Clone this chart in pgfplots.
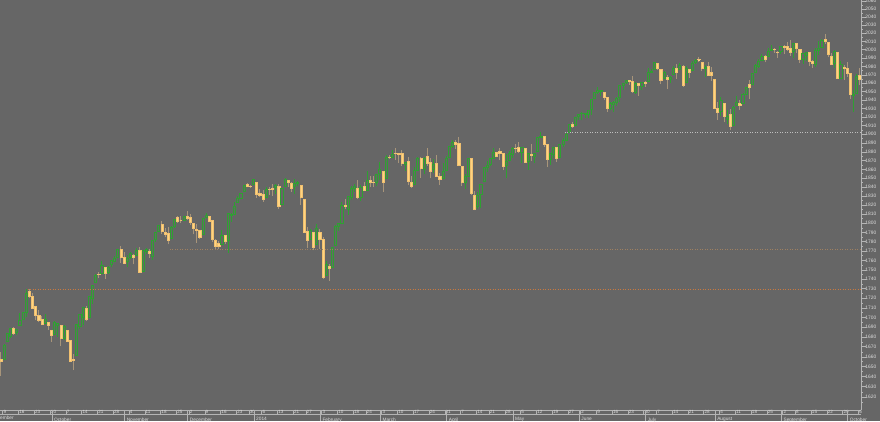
\documentclass[border=0pt]{standalone}
\usepackage{pgfplots}
\pgfplotsset{compat=1.18}
\usepackage{pgfplotstable}
\usepackage{fontspec}
\setmainfont{Liberation Sans}
\definecolor{bg}{HTML}{666666}
\definecolor{upc}{HTML}{2FA032}
\definecolor{dnfill}{HTML}{FFD480}
\definecolor{dnedge}{HTML}{F0C070}
\definecolor{dnwick}{HTML}{A8957A}
\definecolor{txt}{HTML}{DCDCDC}
\definecolor{axl}{HTML}{B4B4B4}
\definecolor{lvlA}{HTML}{C87A40}
\definecolor{lvlB}{HTML}{A08060}
\definecolor{lvlC}{HTML}{BEBEBE}

\pgfplotstableread{
i o h l c
0 1657.4 1664.8 1640.6 1655.2
1 1656.9 1672.4 1656.9 1671.7
2 1675.1 1684.1 1675.1 1684.0
3 1681.0 1689.1 1678.7 1689.1
4 1689.2 1690.0 1682.0 1683.4
5 1685.0 1688.7 1682.2 1688.0
6 1691.7 1705.0 1691.7 1697.6
7 1697.7 1705.5 1697.7 1704.8
8 1705.7 1729.4 1700.4 1725.5
9 1727.3 1729.9 1720.2 1722.3
10 1722.4 1725.2 1708.9 1709.9
11 1711.4 1711.4 1697.1 1701.8
12 1702.6 1707.6 1694.9 1697.4
13 1698.0 1701.7 1691.9 1692.8
14 1694.1 1703.9 1693.1 1698.7
15 1695.5 1695.5 1687.1 1691.8
16 1687.3 1687.3 1675.0 1681.6
17 1682.4 1696.6 1682.1 1695.0
18 1691.9 1693.9 1680.3 1693.9
19 1692.3 1692.3 1670.4 1678.7
20 1678.8 1691.9 1677.3 1690.5
21 1687.2 1687.2 1674.7 1676.1
22 1676.2 1676.8 1655.0 1655.5
23 1657.0 1662.5 1646.5 1656.4
24 1660.9 1692.6 1660.9 1692.6
25 1691.1 1703.4 1688.5 1703.2
26 1699.9 1711.0 1692.1 1710.1
27 1709.2 1711.6 1695.9 1698.1
28 1700.5 1721.8 1700.5 1721.5
29 1720.2 1733.4 1714.1 1733.2
30 1736.7 1745.3 1735.7 1744.5
31 1745.2 1747.8 1740.7 1744.7
32 1746.5 1759.3 1746.5 1754.7
33 1752.3 1752.3 1740.5 1746.4
34 1747.5 1753.9 1745.5 1752.1
35 1756.0 1759.8 1752.5 1759.8
36 1759.4 1765.0 1757.7 1762.1
37 1762.9 1772.1 1762.9 1772.0
38 1772.3 1775.2 1757.2 1763.3
39 1763.2 1768.5 1755.7 1756.5
40 1758.7 1765.7 1752.7 1761.6
41 1763.4 1768.8 1761.6 1767.9
42 1765.7 1767.0 1755.8 1763.0
43 1765.0 1773.7 1764.4 1770.5
44 1770.7 1774.5 1746.2 1747.2
45 1748.4 1770.8 1747.6 1770.6
46 1770.0 1773.4 1767.0 1771.9
47 1769.5 1771.8 1762.3 1767.7
48 1764.4 1782.0 1760.6 1782.0
49 1782.8 1791.0 1780.2 1790.6
50 1790.7 1798.2 1790.7 1798.2
51 1798.8 1802.3 1788.4 1791.5
52 1790.8 1795.5 1784.7 1787.9
53 1789.6 1795.7 1777.2 1781.4
54 1783.5 1797.2 1783.5 1795.9
55 1796.2 1804.8 1794.7 1804.8
56 1806.3 1808.1 1800.6 1802.5
57 1802.9 1808.4 1800.8 1802.8
58 1803.5 1808.3 1802.8 1807.2
59 1808.0 1813.6 1804.0 1805.8
60 1806.6 1810.0 1798.6 1800.9
61 1800.1 1800.1 1787.9 1795.2
62 1794.1 1799.8 1779.1 1792.8
63 1792.8 1792.8 1783.4 1785.0
64 1788.4 1806.0 1788.4 1805.1
65 1806.2 1811.5 1806.2 1808.4
66 1807.6 1808.5 1801.4 1802.6
67 1802.8 1803.0 1780.1 1782.2
68 1781.7 1783.0 1772.3 1775.5
69 1778.0 1780.9 1772.5 1775.3
70 1777.5 1792.2 1777.5 1786.5
71 1786.5 1786.8 1777.2 1781.0
72 1781.5 1811.1 1768.0 1810.7
73 1809.0 1810.9 1801.7 1809.6
74 1810.4 1823.8 1810.4 1818.3
75 1822.9 1829.8 1822.9 1828.0
76 1828.0 1833.3 1828.0 1833.3
77 1835.0 1842.8 1835.0 1842.0
78 1843.0 1844.9 1839.8 1841.4
79 1841.5 1842.5 1838.8 1841.1
80 1842.6 1849.4 1842.4 1848.4
81 1845.9 1845.9 1827.7 1832.0
82 1833.2 1838.2 1829.1 1831.4
83 1832.3 1837.2 1823.7 1826.8
84 1828.7 1840.1 1828.7 1837.9
85 1837.9 1840.0 1831.4 1837.5
86 1839.0 1843.2 1830.4 1838.1
87 1840.1 1844.0 1832.4 1842.4
88 1841.3 1843.5 1815.5 1819.2
89 1821.4 1839.3 1821.4 1838.9
90 1840.5 1850.8 1840.5 1848.4
91 1848.0 1848.0 1840.3 1845.9
92 1844.2 1846.0 1835.2 1838.7
93 1841.1 1849.3 1832.4 1843.8
94 1844.7 1846.9 1840.9 1844.9
95 1842.3 1842.3 1820.1 1828.5
96 1827.0 1827.0 1790.3 1790.3
97 1791.0 1796.0 1772.9 1781.6
98 1783.0 1793.9 1783.0 1792.5
99 1790.2 1790.2 1770.5 1774.2
100 1777.2 1798.8 1777.2 1794.2
101 1790.9 1793.9 1772.3 1782.6
102 1782.7 1784.8 1739.7 1741.9
103 1743.8 1758.7 1743.8 1755.2
104 1753.4 1755.8 1737.9 1751.6
105 1753.0 1774.1 1753.0 1773.4
106 1776.0 1798.0 1776.0 1797.0
107 1796.2 1799.9 1791.8 1799.8
108 1800.5 1823.5 1800.4 1819.8
109 1820.1 1826.6 1816.0 1819.3
110 1814.8 1830.3 1809.2 1829.8
111 1828.5 1841.7 1825.6 1838.6
112 1839.0 1842.9 1835.0 1840.8
113 1838.9 1847.5 1827.0 1828.8
114 1829.2 1842.8 1824.9 1839.8
115 1841.1 1846.1 1835.6 1836.3
116 1836.8 1858.7 1836.8 1847.6
117 1847.7 1852.9 1840.2 1845.1
118 1845.8 1852.7 1840.7 1845.2
119 1844.9 1854.5 1841.1 1854.3
120 1855.1 1867.9 1847.7 1859.5
121 1857.7 1857.7 1834.4 1845.7
122 1849.2 1876.2 1849.2 1873.9
123 1874.1 1876.5 1871.9 1873.8
124 1874.2 1881.9 1874.2 1877.0
125 1878.5 1883.6 1870.6 1878.0
126 1877.9 1877.9 1867.1 1877.2
127 1878.3 1882.4 1863.9 1867.6
128 1866.2 1868.4 1858.0 1868.2
129 1869.1 1874.4 1841.9 1846.3
130 1845.1 1852.4 1839.6 1841.1
131 1842.8 1862.3 1842.8 1858.8
132 1858.9 1873.8 1858.9 1872.3
133 1872.3 1874.1 1850.4 1860.8
134 1860.1 1873.5 1854.6 1872.0
135 1874.5 1884.0 1863.5 1866.5
136 1867.7 1873.3 1849.7 1857.4
137 1859.5 1871.9 1856.0 1865.6
138 1867.1 1875.9 1852.6 1852.6
139 1852.1 1855.6 1842.1 1849.0
140 1850.1 1866.6 1850.1 1857.6
141 1859.2 1875.2 1859.2 1872.3
142 1874.0 1885.8 1874.0 1885.5
143 1886.6 1893.2 1883.8 1890.9
144 1891.4 1893.8 1882.7 1888.8
145 1890.3 1897.3 1863.3 1865.1
146 1863.9 1864.0 1841.5 1845.0
147 1845.5 1855.0 1837.5 1852.0
148 1852.6 1872.4 1852.4 1872.2
149 1872.3 1872.5 1830.9 1833.1
150 1830.7 1835.1 1814.4 1815.7
151 1818.2 1834.2 1815.8 1830.6
152 1831.5 1844.0 1816.3 1843.0
153 1846.0 1862.3 1846.0 1862.3
154 1861.7 1869.6 1856.7 1864.9
155 1865.8 1871.9 1863.2 1871.9
156 1872.6 1884.9 1872.6 1879.6
157 1879.3 1879.8 1873.9 1875.4
158 1881.0 1884.1 1870.2 1878.6
159 1877.7 1877.7 1859.7 1863.4
160 1865.0 1877.0 1850.6 1869.4
161 1870.8 1880.6 1870.8 1878.3
162 1877.1 1885.2 1872.7 1884.0
163 1884.4 1888.6 1878.0 1883.7
164 1885.3 1891.3 1878.5 1881.1
165 1879.5 1885.5 1866.8 1884.7
166 1883.7 1883.7 1867.7 1867.7
167 1868.5 1878.8 1859.8 1878.2
168 1877.4 1889.1 1870.1 1875.6
169 1875.3 1878.6 1867.0 1878.5
170 1880.0 1897.1 1880.0 1896.7
171 1896.8 1902.2 1896.1 1897.5
172 1897.1 1897.1 1885.8 1888.5
173 1888.2 1888.2 1862.4 1870.9
174 1871.2 1878.3 1864.8 1877.9
175 1876.7 1886.0 1872.4 1885.1
176 1884.9 1884.9 1868.1 1872.8
177 1873.3 1888.8 1873.3 1888.0
178 1888.2 1896.3 1885.4 1892.5
179 1893.3 1901.3 1893.3 1900.5
180 1902.0 1912.3 1902.0 1911.9
181 1911.8 1914.5 1907.3 1909.8
182 1910.6 1920.0 1909.8 1920.0
183 1920.3 1924.0 1916.6 1923.6
184 1923.9 1925.9 1916.0 1925.0
185 1923.1 1925.1 1918.8 1924.2
186 1923.1 1928.6 1918.6 1927.9
187 1928.5 1941.7 1922.9 1940.5
188 1942.4 1949.4 1942.4 1949.4
189 1949.0 1955.6 1947.2 1951.3
190 1950.3 1950.9 1944.6 1950.8
191 1949.4 1949.4 1940.1 1943.9
192 1943.4 1943.9 1925.8 1930.1
193 1930.8 1937.3 1927.7 1936.2
194 1934.8 1938.4 1925.9 1937.8
195 1937.2 1943.7 1933.6 1942.0
196 1942.7 1957.7 1937.6 1957.0
197 1957.5 1959.9 1952.3 1959.5
198 1960.5 1963.9 1959.1 1962.9
199 1962.9 1963.7 1958.2 1962.6
200 1962.0 1968.2 1948.3 1950.0
201 1949.3 1960.8 1947.5 1959.5
202 1959.9 1959.9 1944.7 1957.2
203 1956.6 1961.0 1952.2 1961.0
204 1960.8 1962.9 1955.6 1960.2
205 1962.3 1978.6 1962.3 1973.3
206 1973.1 1976.7 1972.6 1974.6
207 1975.9 1985.6 1975.9 1985.4
208 1984.2 1984.2 1975.7 1977.7
209 1976.4 1976.4 1959.5 1963.7
210 1965.1 1974.2 1965.1 1972.8
211 1966.7 1969.8 1952.9 1964.7
212 1965.0 1968.7 1959.6 1967.6
213 1969.9 1979.8 1969.9 1977.1
214 1977.4 1982.5 1965.3 1973.3
215 1976.4 1983.9 1975.7 1981.6
216 1979.8 1981.8 1955.6 1958.1
217 1961.5 1979.9 1961.5 1978.2
218 1976.9 1976.9 1965.8 1973.6
219 1975.6 1986.2 1975.6 1983.5
220 1985.3 1989.2 1982.4 1987.0
221 1988.1 1991.4 1985.8 1988.0
222 1984.6 1984.6 1974.4 1978.3
223 1978.3 1981.5 1967.3 1978.9
224 1980.0 1984.9 1970.0 1970.0
225 1973.2 1978.9 1962.4 1970.1
226 1965.1 1965.1 1930.7 1930.7
227 1929.8 1937.4 1916.4 1925.2
228 1926.6 1942.9 1921.2 1939.0
229 1936.3 1936.3 1913.8 1920.2
230 1917.3 1927.9 1911.5 1920.2
231 1923.0 1928.9 1904.8 1909.6
232 1910.4 1932.4 1909.0 1931.6
233 1933.4 1944.9 1933.4 1936.9
234 1935.7 1939.7 1928.3 1933.8
235 1935.6 1948.4 1935.6 1946.7
236 1947.4 1955.2 1947.4 1955.2
237 1958.9 1964.0 1941.5 1955.1
238 1958.4 1972.0 1958.4 1971.7
239 1972.7 1982.6 1972.7 1981.6
240 1980.5 1988.6 1977.7 1986.5
241 1986.8 1994.8 1986.8 1992.4
242 1992.6 1993.5 1984.8 1988.4
243 1991.7 2002.0 1991.7 1997.9
244 1998.6 2005.0 1998.6 2000.0
245 2000.5 2002.1 1996.2 2000.1
246 1997.4 1998.6 1990.5 1996.7
247 1998.5 2003.4 1994.7 2003.4
248 2004.1 2006.1 1994.9 2002.3
249 2003.6 2009.3 1998.1 2000.7
250 2001.7 2011.2 1992.5 1997.7
251 1998.0 2007.7 1990.1 2007.7
252 2007.2 2007.2 1995.6 2001.5
253 2000.7 2001.0 1984.6 1988.4
254 1988.4 1996.7 1983.0 1995.7
255 1992.9 1997.7 1985.9 1997.5
256 1996.7 1996.7 1980.3 1985.5
257 1986.0 1987.2 1978.5 1984.1
258 1981.9 2002.3 1979.1 1999.0
259 1999.3 2010.7 1993.3 2001.6
260 2003.1 2012.3 2003.1 2011.4
261 2012.7 2019.3 2006.6 2010.4
262 2009.1 2009.1 1991.0 1994.3
263 1992.8 1995.4 1982.3 1982.8
264 1983.3 1999.8 1978.6 1998.3
265 1997.3 1997.3 1966.0 1966.0
266 1966.2 1986.4 1966.2 1982.9
267 1979.0 1981.3 1964.0 1977.8
268 1978.2 1985.2 1968.0 1972.3
269 1971.4 1971.4 1941.7 1946.2
270 1945.8 1952.3 1926.0 1946.2
271 1948.1 1971.2 1948.1 1967.9
272 1970.0 1977.8 1958.4 1964.8
}\ohlc

\begin{document}
\begin{tikzpicture}[x=1bp,y=1bp]
\fill[bg] (0,-11) rectangle (880,410);
\begin{axis}[
  at={(0,0)}, anchor=south west,
  width=861bp, height=410bp, scale only axis,
  ymode=log, ymin=1607.3, ymax=2061.35,
  xmin=-0.266, xmax=272.4,
  axis background/.style={fill=bg},
  axis x line*=bottom, axis y line*=right,
  axis line style={draw=axl, line width=0.6bp, -},
  tick align=outside,
  major tick length=4.5bp, minor tick length=2bp,
  tick style={draw=axl, line width=0.5bp},
  ytick={1620,1630,1640,1650,1660,1670,1680,1690,1700,1710,1720,1730,1740,1750,1760,1770,1780,1790,1800,1810,1820,1830,1840,1850,1860,1870,1880,1890,1900,1910,1920,1930,1940,1950,1960,1970,1980,1990,2000,2010,2020,2030,2040,2050,2060},
  yticklabels={1620,1630,1640,1650,1660,1670,1680,1690,1700,1710,1720,1730,1740,1750,1760,1770,1780,1790,1800,1810,1820,1830,1840,1850,1860,1870,1880,1890,1900,1910,1920,1930,1940,1950,1960,1970,1980,1990,2000,2010,2020,2030,2040,2050,2060},
  minor ytick={1615,1625,1635,1645,1655,1665,1675,1685,1695,1705,1715,1725,1735,1745,1755,1765,1775,1785,1795,1805,1815,1825,1835,1845,1855,1865,1875,1885,1895,1905,1915,1925,1935,1945,1955,1965,1975,1985,1995,2005,2015,2025,2035,2045,2055},
  yticklabel style={font=\fontsize{4.9}{5}\selectfont, text=txt, anchor=west, xshift=-0.8bp, inner sep=0.5bp},
  xtick={1,6,11,16,21,26,31,36,41,46,51,56,60,65,70,75,79,83,88,93,97,102,107,112,116,121,126,131,136,141,146,151,155,160,165,170,175,180,184,189,194,199,204,208,213,218,223,228,233,238,243,248,252,257,262,267,272},
  xticklabels={9,16,23,30,7,14,21,28,4,11,18,25,2,9,16,23,30,6,13,21,27,3,10,18,24,3,10,17,24,31,7,14,21,28,5,12,19,27,2,9,16,23,30,7,14,21,28,4,11,18,25,2,8,15,22,29,6},
  xtick style={xshift=-1.3bp},
  xticklabel style={font=\fontsize{4.6}{5}\selectfont, text=txt, anchor=north west, xshift=-0.9bp, yshift=4.3bp, inner sep=0.3bp},
  extra x ticks={17,40,60,81,102,121,142,163,184,205,227,248,269},
  extra x tick labels={October,November,December,2014,February,March,April,May,June,July,August,September,October},
  extra x tick style={major tick length=11bp, tick style={xshift=-1.3bp},
     xticklabel style={font=\fontsize{4.8}{5}\selectfont, yshift=-0.7bp}},
]
\pgfplotstablegetrowsof{\ohlc}
\pgfmathtruncatemacro{\nrows}{\pgfplotsretval-1}
\pgfplotsforeachungrouped \k in {0,...,\nrows}{%
  \pgfplotstablegetelem{\k}{i}\of\ohlc \edef\ci{\pgfplotsretval}%
  \pgfplotstablegetelem{\k}{o}\of\ohlc \edef\co{\pgfplotsretval}%
  \pgfplotstablegetelem{\k}{h}\of\ohlc \edef\ch{\pgfplotsretval}%
  \pgfplotstablegetelem{\k}{l}\of\ohlc \edef\cl{\pgfplotsretval}%
  \pgfplotstablegetelem{\k}{c}\of\ohlc \edef\cc{\pgfplotsretval}%
  \pgfmathsetmacro{\xa}{\ci-0.34}%
  \pgfmathsetmacro{\xb}{\ci+0.34}%
  \pgfmathparse{\cc>=\co ? 1 : 0}%
  \ifdim\pgfmathresult pt>0.5pt
    \edef\tmp{\noexpand\addplot[draw=upc, line width=0.8bp] coordinates {(\ci,\cl) (\ci,\ch)};
      \noexpand\addplot[draw=upc, fill=bg, line width=0.7bp] coordinates {(\xa,\co) (\xb,\co) (\xb,\cc) (\xa,\cc)} -- cycle;}%
  \else
    \edef\tmp{\noexpand\addplot[draw=dnwick, line width=0.8bp] coordinates {(\ci,\cl) (\ci,\ch)};
      \noexpand\addplot[draw=dnedge, fill=dnfill, line width=0.5bp] coordinates {(\xa,\co) (\xb,\co) (\xb,\cc) (\xa,\cc)} -- cycle;}%
  \fi
  \tmp
}
\addplot[lvlA, line width=0.6bp, dash pattern=on 1bp off 1.5bp] coordinates {(8.5,1729.86) (273,1729.86)};
\addplot[lvlB, line width=0.6bp, dash pattern=on 1bp off 1.5bp] coordinates {(53.5,1772.3) (273,1772.3)};
\addplot[lvlC, line width=0.6bp, dash pattern=on 1bp off 1.5bp] coordinates {(178.5,1902.7) (273,1902.7)};
\end{axis}
\draw[axl, line width=0.5bp] (0,-4.5) -- (861,-4.5);
\node[font=\fontsize{4.8}{5}\selectfont, text=txt, anchor=north west, inner sep=0.3bp] at (-10.2,-5.2) {September};
\pgfresetboundingbox
\useasboundingbox (0,-11) rectangle (880,410);
\end{tikzpicture}
\end{document}
